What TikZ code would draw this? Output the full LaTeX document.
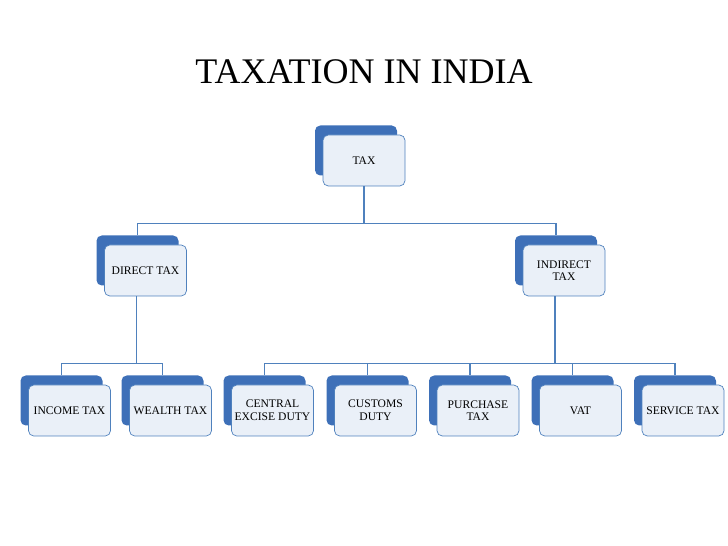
\documentclass[tikz,border=0pt]{standalone}
\usepackage{fontspec}
\setmainfont{Liberation Serif}
\usetikzlibrary{positioning}
\definecolor{backblue}{HTML}{3E70B8}
\definecolor{frontfill}{HTML}{EAF0F8}
\definecolor{edgeblue}{HTML}{4F81BD}
\tikzset{
  backbox/.style={rectangle, rounded corners=3pt, fill=backblue, minimum width=82*0.02cm, minimum height=50*0.02cm, inner sep=0pt},
  frontbox/.style={rectangle, rounded corners=3pt, draw=edgeblue, fill=frontfill, minimum width=82*0.02cm, minimum height=51*0.02cm, inner sep=1pt, align=center, font=\fontsize{6.6}{7.2}\selectfont},
  link/.style={draw=edgeblue, line width=0.6pt}
}
\newcommand{\taxbox}[4]{%
  \node[backbox] (#1b) at (#2-8,#3-10) {};
  \node[frontbox] (#1) at (#2,#3) {#4};
}
\begin{document}
\begin{tikzpicture}[x=0.02cm, y=-0.02cm]
  \useasboundingbox (0,0) rectangle (728,546);
  \node[font=\fontsize{20.5}{22}\selectfont] (title) at (364,72) {TAXATION IN INDIA};

  \taxbox{tax}{364}{160.5}{TAX}
  \taxbox{direct}{145.5}{270.5}{DIRECT TAX}
  \taxbox{indirect}{564}{270.5}{INDIRECT\\TAX}

  \taxbox{income}{69.5}{410.5}{INCOME TAX}
  \taxbox{wealth}{170.5}{410.5}{WEALTH TAX}
  \taxbox{central}{272.5}{410.5}{CENTRAL\\EXCISE DUTY}
  \taxbox{customs}{375.5}{410.5}{CUSTOMS\\DUTY}
  \taxbox{purchase}{478}{410.5}{PURCHASE\\TAX}
  \taxbox{vat}{580.5}{410.5}{VAT}
  \taxbox{service}{683}{410.5}{SERVICE TAX}

  % tree links
  \foreach \c in {directb, indirectb}
    \draw[link] (tax.south) -- ++(0,37) -| (\c.north);
  \foreach \c in {incomeb, wealthb}
    \draw[link] ([xshift=-9*0.02cm]direct.south) -- ++(0,67) -| (\c.north);
  \foreach \c in {centralb, customsb, purchaseb, vatb, serviceb}
    \draw[link] ([xshift=-9*0.02cm]indirect.south) -- ++(0,67) -| (\c.north);
\end{tikzpicture}
\end{document}
